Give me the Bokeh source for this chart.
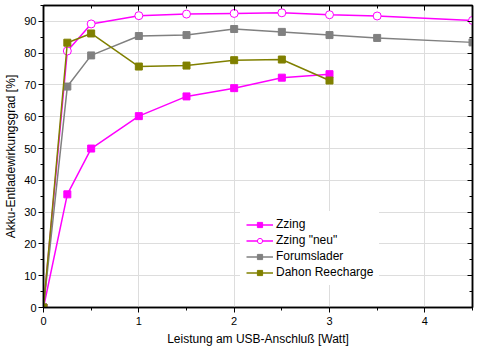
from bokeh.plotting import figure
from bokeh.models import LinearAxis, Range1d, FixedTicker, Legend
from bokeh.embed import file_html
from bokeh.resources import INLINE

# data
zzing_x = [0, 0.25, 0.5, 1, 1.5, 2, 2.5, 3]
zzing_y = [0, 35.6, 50.0, 60.2, 66.4, 69.0, 72.3, 73.4]
neu_x = [0, 0.25, 0.5, 1, 1.5, 2, 2.5, 3, 3.5, 4.5]
neu_y = [0, 80.7, 89.2, 91.8, 92.3, 92.5, 92.7, 92.1, 91.7, 90.3]
forum_x = [0, 0.25, 0.5, 1, 1.5, 2, 2.5, 3, 3.5, 4.5]
forum_y = [0, 69.5, 79.3, 85.4, 85.7, 87.6, 86.7, 85.7, 84.8, 83.4]
dahon_x = [0, 0.25, 0.5, 1, 1.5, 2, 2.5, 3]
dahon_y = [0, 83.3, 86.2, 75.8, 76.1, 77.8, 78.0, 71.4]
x_ticks = [0, 1, 2, 3, 4]
y_ticks = [0, 10, 20, 30, 40, 50, 60, 70, 80, 90]
x_minor = [0.5, 1.5, 2.5, 3.5, 4.5]
y_minor = [5, 15, 25, 35, 45, 55, 65, 75, 85, 95]

FONT = "Liberation Sans"

p = figure(width=478, height=354, output_backend="svg", toolbar_location=None,
           x_range=Range1d(0, 4.5), y_range=Range1d(0, 95),
           min_border_left=43, min_border_right=6, min_border_top=5, min_border_bottom=47)
p.outline_line_color = "black"
p.outline_line_width = 1.5

def style_axis(ax, labels=True, inward=False):
    ax.axis_line_color = "black"
    ax.axis_line_width = 1.5
    ax.major_tick_line_color = "black"
    ax.minor_tick_line_color = "black"
    if inward:
        ax.major_tick_in = 5; ax.major_tick_out = 0
        ax.minor_tick_in = 3; ax.minor_tick_out = 0
    else:
        ax.major_tick_in = 0; ax.major_tick_out = 5
        ax.minor_tick_in = 0; ax.minor_tick_out = 3
    ax.major_label_text_font = FONT
    ax.major_label_text_font_size = "11px"
    ax.major_label_text_color = "black"
    ax.axis_label_text_font = FONT
    ax.axis_label_text_font_size = "12px"
    ax.axis_label_text_font_style = "normal"
    ax.axis_label_text_color = "black"
    if not labels:
        ax.major_label_text_alpha = 0
        ax.major_label_text_font_size = "0px"

xt = FixedTicker(ticks=x_ticks, minor_ticks=x_minor)
yt = FixedTicker(ticks=y_ticks, minor_ticks=y_minor)
p.xaxis.ticker = xt
p.yaxis.ticker = yt
p.xaxis.axis_label = "Leistung am USB-Anschluß [Watt]"
p.yaxis.axis_label = "Akku-Entladewirkungsgrad [%]"
style_axis(p.xaxis[0])
style_axis(p.yaxis[0])
p.xaxis.major_label_standoff = 4
p.xaxis.axis_label_standoff = 4
p.yaxis.major_label_standoff = 2
p.yaxis.axis_label_standoff = 3

top = LinearAxis(ticker=FixedTicker(ticks=x_ticks, minor_ticks=x_minor))
style_axis(top, labels=False, inward=True)
p.add_layout(top, "above")
right = LinearAxis(ticker=FixedTicker(ticks=y_ticks, minor_ticks=y_minor))
style_axis(right, labels=False, inward=True)
p.add_layout(right, "right")

p.xgrid.ticker = xt
p.ygrid.ticker = yt
p.grid.grid_line_color = "#dddddd"
p.grid.grid_line_width = 1

MAG = "#ff00ff"; GRAY = "#808080"; OLIVE = "#808000"

l1 = p.line(zzing_x, zzing_y, line_color=MAG, line_width=1.5)
m1 = p.scatter(zzing_x, zzing_y, marker="square", size=7, fill_color=MAG, line_color=MAG)
l2 = p.line(neu_x, neu_y, line_color=MAG, line_width=1.5)
m2 = p.scatter(neu_x, neu_y, marker="circle", size=8, fill_color="white", line_color=MAG, line_width=1)
l3 = p.line(forum_x, forum_y, line_color=GRAY, line_width=1.5)
m3 = p.scatter(forum_x, forum_y, marker="square", size=7, fill_color=GRAY, line_color=GRAY)
l4 = p.line(dahon_x, dahon_y, line_color=OLIVE, line_width=1.5)
m4 = p.scatter(dahon_x, dahon_y, marker="square", size=7, fill_color=OLIVE, line_color=OLIVE)

legend = Legend(items=[("Zzing", [l1, m1]), ("Zzing \"neu\"", [l2, m2]),
                       ("Forumslader", [l3, m3]), ("Dahon Reecharge", [l4, m4])],
                location=(197, 22))
legend.border_line_alpha = 0
legend.background_fill_color = "white"
legend.background_fill_alpha = 1
legend.label_text_font = FONT
legend.label_text_font_size = "12px"
legend.label_text_color = "black"
legend.glyph_width = 27
legend.glyph_height = 13
legend.label_height = 13
legend.spacing = 2
legend.padding = 6
legend.margin = 0
legend.label_standoff = 3
p.add_layout(legend, "center")

open("out.html", "w").write(file_html(p, INLINE))
